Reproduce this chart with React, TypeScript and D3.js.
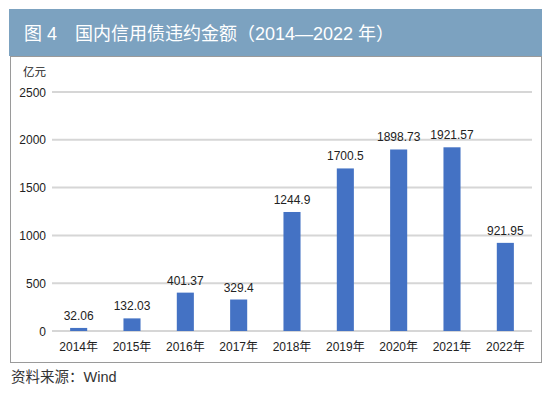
import React, { useEffect, useRef } from 'react';
import * as d3 from 'd3';

const years = ['2014年', '2015年', '2016年', '2017年', '2018年', '2019年', '2020年', '2021年', '2022年'];
const amounts = [32.06, 132.03, 401.37, 329.4, 1244.9, 1700.5, 1898.73, 1921.57, 921.95];
const yTicks = [0, 500, 1000, 1500, 2000, 2500];

const title = '图 4\u3000国内信用债违约金额（2014—2022 年）';
const unit = '亿元';
const source = '资料来源：Wind';

const W = 550;
const H = 393;
const FONT = "'Liberation Sans', Arial, 'Noto Sans CJK SC', sans-serif";

export default function App() {
  const ref = useRef<SVGSVGElement>(null);

  useEffect(() => {
    if (!ref.current) return;
    const svg = d3.select(ref.current);
    svg.selectAll('*').remove();

    // header band
    svg.append('rect')
      .attr('x', 9).attr('y', 9).attr('width', 533).attr('height', 47)
      .attr('fill', '#7ca2c0');
    svg.append('text')
      .attr('x', 24).attr('y', 40)
      .attr('fill', '#fff')
      .attr('font-family', FONT)
      .attr('font-size', 18)
      .text(title);

    // chart frame
    svg.append('rect')
      .attr('x', 10.5).attr('y', 56.5).attr('width', 531).attr('height', 306)
      .attr('fill', 'none')
      .attr('stroke', '#9a9a9a')
      .attr('stroke-width', 1);

    const x = d3.scaleBand<string>()
      .domain(years)
      .range([52, 532])
      .paddingInner(0.68)
      .paddingOuter(0.34);

    const y = d3.scaleLinear().domain([0, 2500]).range([331, 92]);

    // gridlines
    svg.append('g')
      .selectAll('line')
      .data(yTicks)
      .enter()
      .append('line')
      .attr('x1', 52).attr('x2', 532)
      .attr('y1', (d) => y(d)).attr('y2', (d) => y(d))
      .attr('stroke', '#d6d6d6')
      .attr('stroke-width', 2);

    // y tick labels
    svg.append('g')
      .selectAll('text')
      .data(yTicks)
      .enter()
      .append('text')
      .attr('x', 46)
      .attr('y', (d) => y(d) + 4.5)
      .attr('text-anchor', 'end')
      .attr('font-family', FONT)
      .attr('font-size', 12)
      .attr('fill', '#222')
      .text((d) => String(d));

    svg.append('text')
      .attr('x', 23).attr('y', 76)
      .attr('font-family', FONT)
      .attr('font-size', 11.5)
      .attr('fill', '#222')
      .text(unit);

    // bars
    svg.append('g')
      .selectAll('rect')
      .data(amounts)
      .enter()
      .append('rect')
      .attr('x', (_, i) => x(years[i])!)
      .attr('y', (d) => y(d))
      .attr('width', x.bandwidth())
      .attr('height', (d) => y(0) - y(d))
      .attr('fill', '#4472c4');

    // value labels
    svg.append('g')
      .selectAll('text')
      .data(amounts)
      .enter()
      .append('text')
      .attr('x', (_, i) => x(years[i])! + x.bandwidth() / 2)
      .attr('y', (d) => y(d) - 8)
      .attr('text-anchor', 'middle')
      .attr('font-family', FONT)
      .attr('font-size', 12)
      .attr('fill', '#222')
      .text((d) => String(d));

    // x labels
    svg.append('g')
      .selectAll('text')
      .data(years)
      .enter()
      .append('text')
      .attr('x', (d) => x(d)! + x.bandwidth() / 2)
      .attr('y', 351)
      .attr('text-anchor', 'middle')
      .attr('font-family', FONT)
      .attr('font-size', 12)
      .attr('fill', '#222')
      .text((d) => d);

    svg.append('text')
      .attr('x', 11).attr('y', 382)
      .attr('font-family', FONT)
      .attr('font-size', 14.5)
      .attr('fill', '#333')
      .text(source);
  }, []);

  return (
    <svg
      ref={ref}
      width={W}
      height={H}
      style={{ position: 'absolute', left: 0, top: 0, background: '#fff' }}
    />
  );
}
